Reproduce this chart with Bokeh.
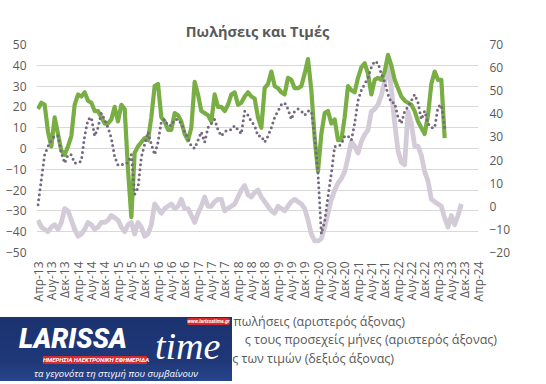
import math
from bokeh.plotting import figure
from bokeh.layouts import column
from bokeh.models import Range1d, LinearAxis, FixedTicker, Div
from bokeh.embed import file_html
from bokeh.resources import INLINE

# ---------------- data (monthly, starting April 2013) ----------------
sales_now = [19, 22, 21, 8, 1, 15, 7, -1, -3, 1, 6, 21, 26, 25, 27, 23, 22, 18, 18, 15,
             12, 12, 14, 20, 13, 21, 19, -10, -33, -2, 1, 3, 5, 4, 15, 30, 31, 15, 13, 9,
             9, 17, 16, 13, 7, 4, 10, 32, 26, 18, 17, 16, 13, 26, 20, 20, 18, 21, 26, 27,
             21, 22, 25, 27, 25, 24, 15, 10, 29, 31, 37, 30, 29, 27, 26, 34, 33, 29, 29, 30,
             36, 43, 28, 5, -11, 7, 17, 18, 12, 14, 4, 4, 15, 30, 28, 27, 34, 39, 41, 36,
             26, 33, 34, 33, 37, 45, 40, 33, 29, 25, 23, 22, 21, 18, 13, 10, 7, 16, 31, 37,
             33, 33, 5]
sales_next = [-27, -15, -3, 1, 4, 6, 6, -2, -7, -3, -3, -7, -7, -6, 6, 14, 15, 6, 10, 17,
              14, 10, 5, -4, -8, -8, -7, -7, -3, -22, -19, -4, 2, 8, 2, -3, 3, 13, 14, 11,
              11, 14, 14, 12, 8, 5, 1, 0, 4, 8, 3, 10, 12, 14, 9, 6, 8, 9, 9, 11,
              9, 7, 18, 16, 13, 11, 6, 6, 3, 6, 10, 15, 18, 21, 22, 19, 14, 18, 19, 18,
              16, 18, 18, 6, -12, -41, -35, -23, -12, 1, 1, 2, 6, 6, 4, 12, 23, 28, 31, 34,
              39, 42, 41, 36, 32, 26, 22, 22, 15, 12, 18, 20, 23, 26, 22, 14, 18, 12, 10, 10,
              20, 21, 10]
prices_next = [-6, -9, -10, -11, -9, -8, -10, -7, -1, -2, -6, -10, -13, -12, -10, -7, -8, -10, -9, -7,
               -7, -6, -4, -5, -6, -9, -11, -8, -7, -12, -7, -9, -13, -12, -8, 1, -1, -3, -1, 0,
               1, -1, 0, 3, -1, -1, -4, -7, -3, 0, 4, 0, 0, 2, 3, 3, -2, -1, 0, 1,
               4, 7, 9, 5, 4, 6, 7, 4, 2, 0, -2, -3, 0, -1, -2, 0, 2, 3, 2, 1,
               -1, -6, -12, -15, -15, -14, -9, -3, 3, 7, 10, 12, 15, 21, 28, 26, 23, 28, 31, 33,
               41, 42, 44, 48, 54, 61, 51, 36, 24, 19, 18, 41, 36, 26, 26, 22, 15, 11, 3, 2,
               1, 0, -5, -9, -4, -8, -4, 1]
tick_labels = ["Απρ-13", "Αυγ-13", "Δεκ-13", "Απρ-14", "Αυγ-14", "Δεκ-14", "Απρ-15", "Αυγ-15",
               "Δεκ-15", "Απρ-16", "Αυγ-16", "Δεκ-16", "Απρ-17", "Αυγ-17", "Δεκ-17", "Απρ-18",
               "Αυγ-18", "Δεκ-18", "Απρ-19", "Αυγ-19", "Δεκ-19", "Απρ-20", "Αυγ-20", "Δεκ-20",
               "Απρ-21", "Αυγ-21", "Δεκ-21", "Απρ-22", "Αυγ-22", "Δεκ-22", "Απρ-23", "Αυγ-23",
               "Δεκ-23", "Απρ-24"]
# legend entries as visible in the reference (their left parts are hidden by the logo)
legend_labels = ["πωλήσεις (αριστερός άξονας)",
                 "ς τους προσεχείς μήνες (αριστερός άξονας)",
                 "ές των τιμών (δεξιός άξονας)"]
title_text = "Πωλήσεις και Τιμές"

FONT = "Open Sans"
GREY_TXT = "#595959"
TOTAL_W = 544

# ---------------- main chart ----------------
p = figure(frame_width=442, frame_height=208, output_backend="svg", toolbar_location=None,
           x_range=Range1d(-0.45, 132.15), y_range=Range1d(-50, 50),
           min_border_left=36, min_border_right=66, min_border_top=44, min_border_bottom=61,
           title=title_text)
p.title.align = "center"
p.title.text_font = FONT
p.title.text_font_size = "14.5px"
p.title.text_font_style = "bold"
p.title.text_color = GREY_TXT
p.title.standoff = 8
p.outline_line_color = None
p.background_fill_color = "white"
p.border_fill_color = "white"
p.xgrid.visible = False
p.ygrid.grid_line_color = "#d9d9d9"
p.ygrid.grid_line_width = 1

p.extra_y_ranges = {"price": Range1d(-20, 70)}
right_axis = LinearAxis(y_range_name="price", ticker=FixedTicker(ticks=list(range(-20, 71, 10))))
p.add_layout(right_axis, "right")

p.yaxis[0].ticker = FixedTicker(ticks=list(range(-50, 51, 10)))
xt = list(range(0, 133, 4))
p.xaxis.ticker = FixedTicker(ticks=xt)
p.xaxis.major_label_overrides = {t: lab for t, lab in zip(xt, tick_labels)}
p.xaxis.major_label_orientation = math.pi / 2

for ax in p.axis:
    ax.axis_line_color = None
    ax.major_tick_line_color = None
    ax.minor_tick_line_color = None
    ax.major_tick_in = 0
    ax.major_tick_out = 0
    ax.major_label_text_color = GREY_TXT
    ax.major_label_text_font = FONT
    ax.major_label_text_font_size = "12px"
p.yaxis[0].major_label_standoff = 10
right_axis.major_label_standoff = 11
p.xaxis.major_label_standoff = 9

m_sales = list(range(len(sales_now)))
m_next = list(range(len(sales_next)))
m_price = list(range(len(prices_next)))

p.line(m_price, prices_next, y_range_name="price", line_color="#d4cbd8", line_width=4.8,
       line_join="round")
p.line(m_sales, sales_now, line_color="#78ae44", line_width=4.2, line_join="round")
p.line(m_next, sales_next, line_color="#75697f", line_width=3, line_dash="0 5",
       line_cap="round", line_join="round")

# ---------------- legend strip with logo overlay (HTML) ----------------
STRIP_TOP = 313
legend_right = [405, 497, 394]
legend_y = [322, 340, 359]
legend_html = "".join(
    f'<div style="position:absolute;right:{TOTAL_W - xr}px;top:{yy - STRIP_TOP - 8}px;'
    f'height:16px;line-height:16px;white-space:nowrap;font-size:12.5px;color:{GREY_TXT};">{lab}</div>'
    for lab, xr, yy in zip(legend_labels, legend_right, legend_y))

logo_html = (
    '<div style="position:absolute;left:0;top:4px;width:232px;height:64px;overflow:hidden;'
    'background:linear-gradient(180deg,#1b3270 0%,#1f3878 70%,#27458c 100%);">'
    '<div style="position:absolute;left:19px;top:10px;height:24px;font-family:Roboto;font-weight:900;'
    'font-style:italic;font-size:27px;line-height:24px;color:white;letter-spacing:0px;">LARISSA</div>'
    '<div style="position:absolute;left:155px;top:19px;height:20px;font-family:\'Liberation Serif\';'
    'font-style:italic;font-size:38px;line-height:20px;color:white;">time</div>'
    '<div style="position:absolute;left:43px;top:39px;width:104px;height:8px;background:#d52b30;'
    'font-family:Roboto;font-weight:bold;font-style:italic;font-size:6px;line-height:8px;'
    'text-align:center;white-space:nowrap;color:white;">ΗΜΕΡΗΣΙΑ ΗΛΕΚΤΡΟΝΙΚΗ ΕΦΗΜΕΡΙΔΑ</div>'
    '<div style="position:absolute;left:187px;top:1px;width:43px;height:7px;background:#d52b30;'
    'border-radius:2px;font-family:Roboto;font-weight:bold;font-style:italic;font-size:5px;'
    'line-height:7px;text-align:center;white-space:nowrap;color:white;">www.larissatime.gr</div>'
    '<div style="position:absolute;left:0;top:50px;width:232px;height:14px;font-family:\'Open Sans\';'
    'font-style:italic;font-size:9.5px;line-height:14px;text-align:center;white-space:nowrap;'
    'color:white;">τα γεγονότα τη στιγμή που συμβαίνουν</div>'
    '</div>')

strip_html = (f'<div style="position:relative;width:{TOTAL_W}px;height:68px;overflow:hidden;'
              f'font-family:\'Open Sans\',sans-serif;background:white;">'
              + legend_html + logo_html + '</div>')
strip = Div(text=strip_html, width=TOTAL_W, height=68, margin=0)

layout = column(p, strip, spacing=0)
open("out.html", "w").write(file_html(layout, INLINE))
